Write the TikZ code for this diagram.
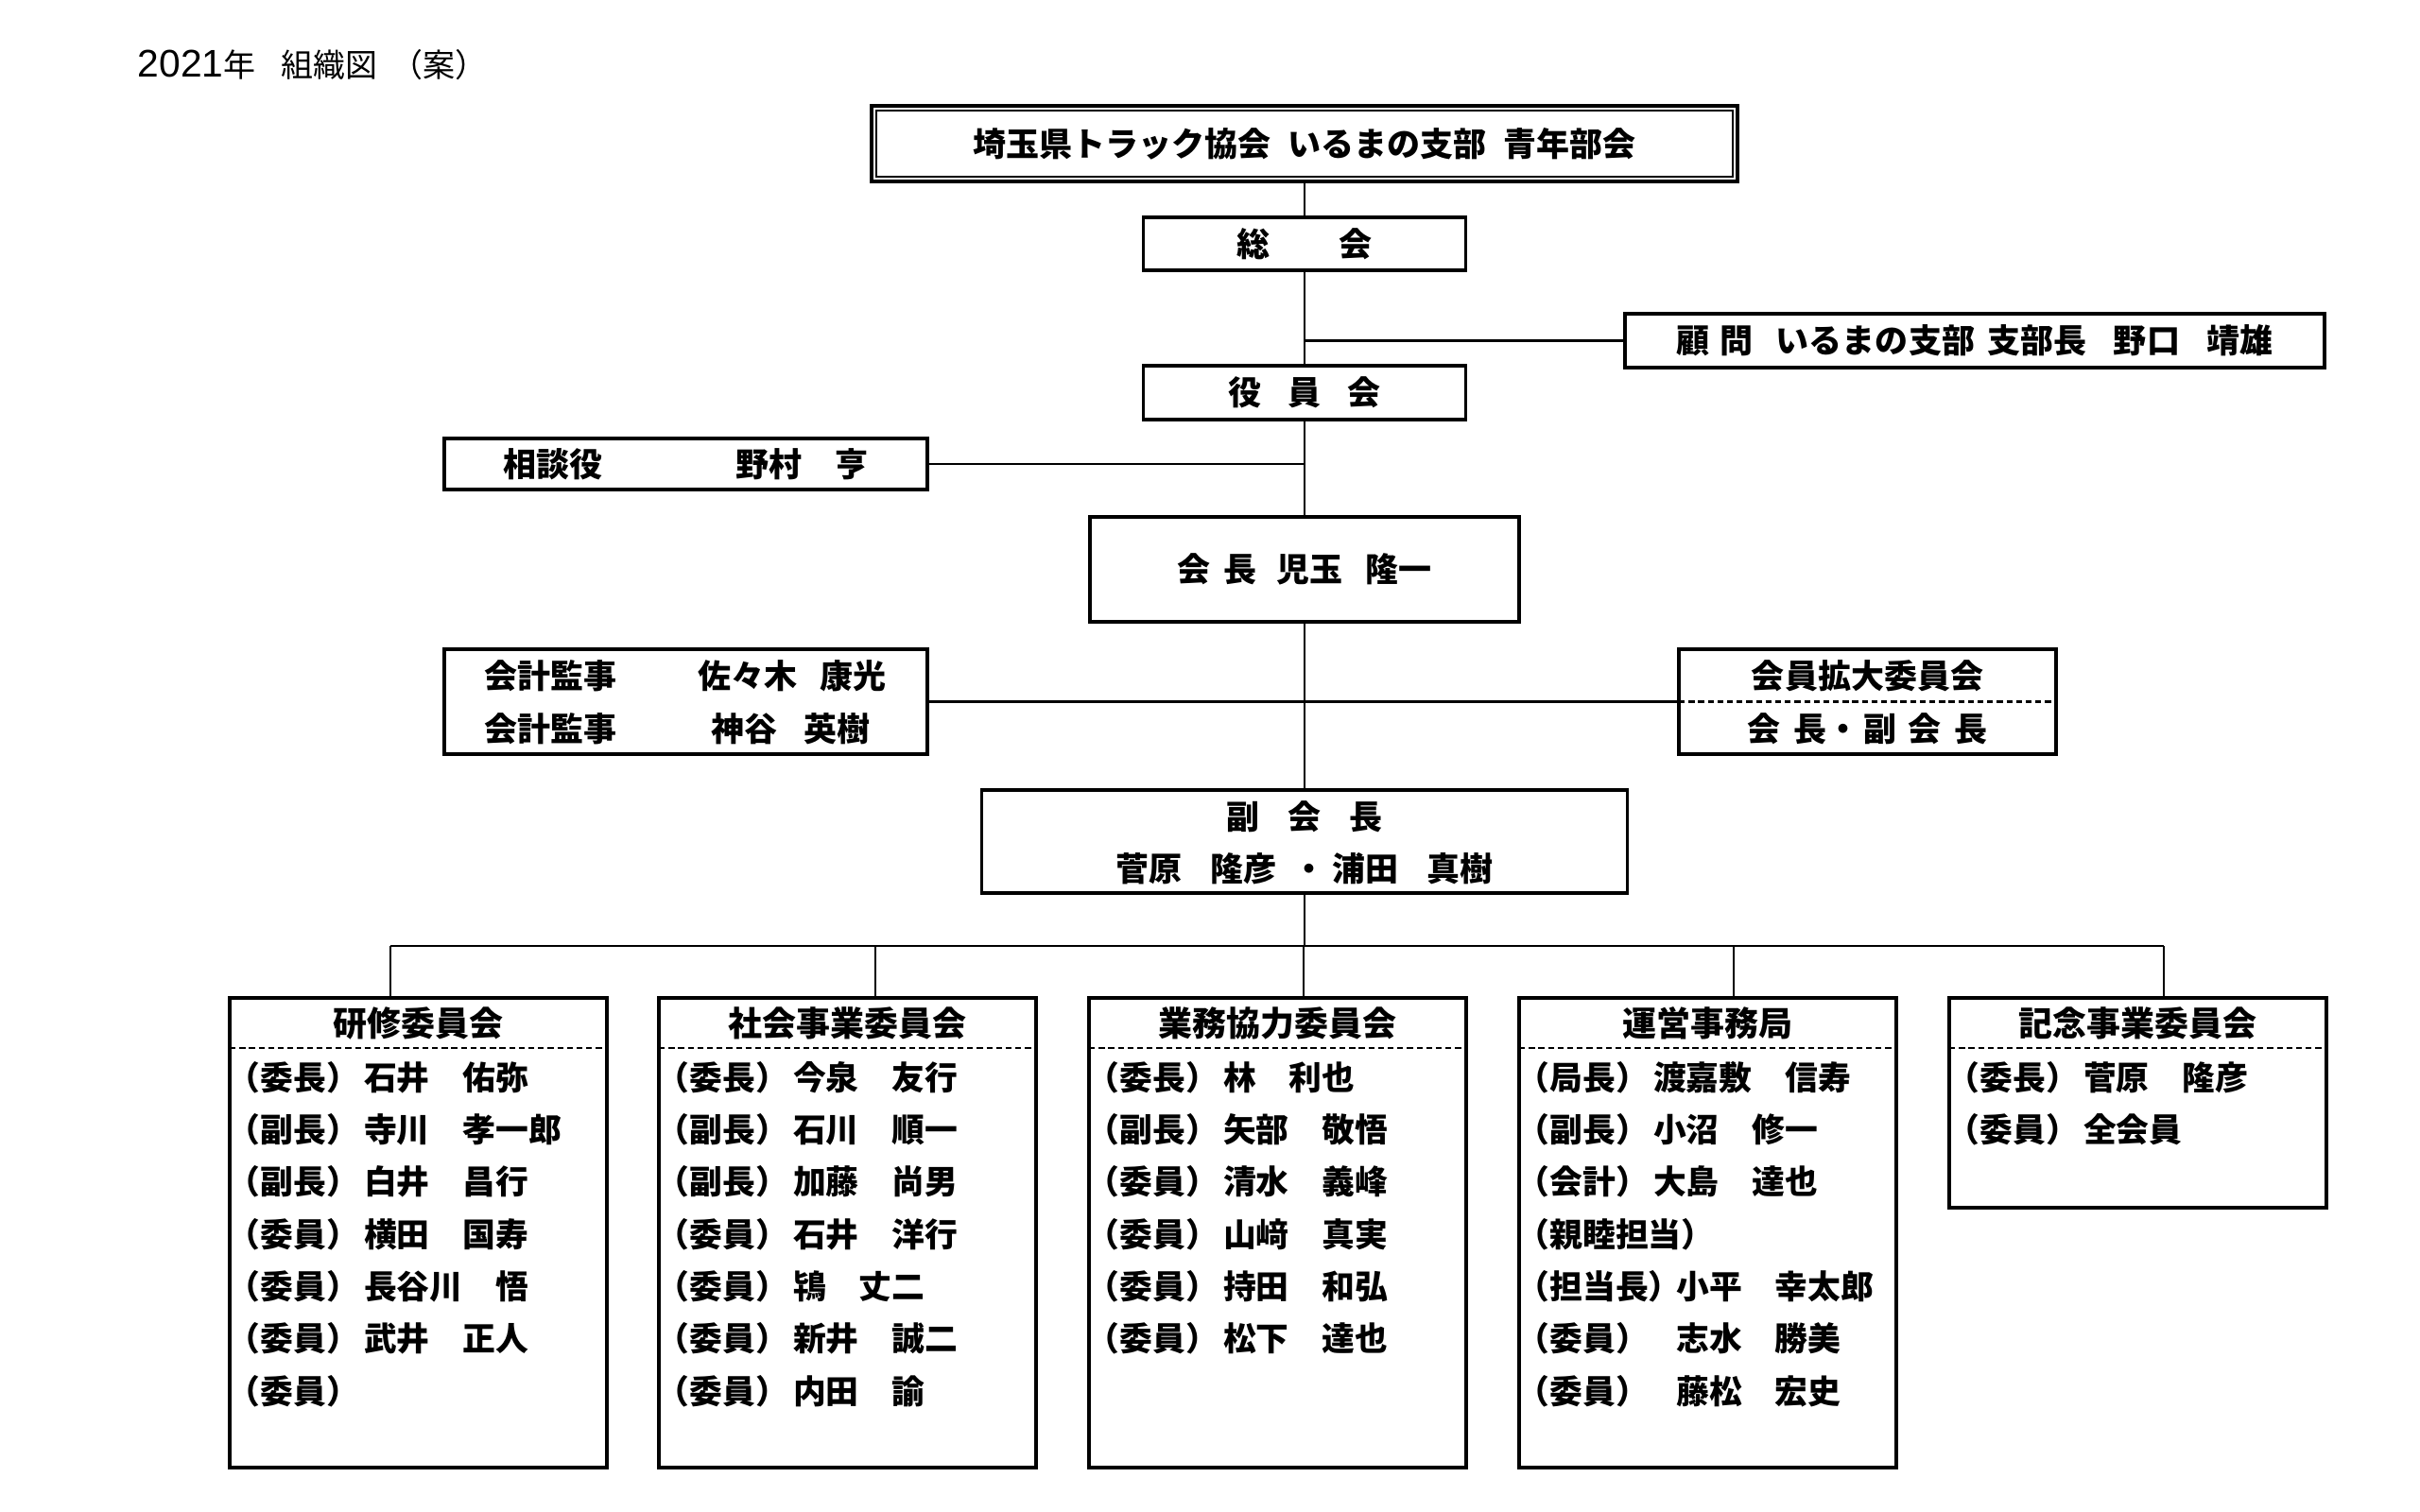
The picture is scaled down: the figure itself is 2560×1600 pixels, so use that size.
\documentclass[tikz,border=0pt]{standalone}
\usepackage{fontspec}
\newfontfamily\jp{Noto Sans CJK JP}
\newfontfamily\lat{Liberation Sans}
\usetikzlibrary{calc}
\newcommand\mrow[3]{\makebox[#1][l]{#2}#3}
\tikzset{
  box/.style={draw, line width=0.9pt, inner sep=0pt, outer sep=0pt},
  conn/.style={line width=0.75pt},
  sep/.style={line width=0.6pt, dash pattern=on 1.8pt off 1.1pt},
  upper/.style={font=\jp\bfseries\fontsize{9.96}{12}\selectfont},
  utext/.style={inner sep=0pt, font=\jp\bfseries\fontsize{9.96}{12}\selectfont},
  ctitle/.style={inner sep=0pt, font=\jp\bfseries\fontsize{10.24}{12}\selectfont},
  crow/.style={inner sep=0pt, anchor=west, font=\jp\bfseries\fontsize{9.9}{12}\selectfont},
  cbox/.style={box, anchor=north west, minimum width=39.9mm},
}
\begin{document}
\begin{tikzpicture}[x=0.1mm, y=-0.1mm]
\useasboundingbox (0,0) rectangle (2560,1600);
\fill[white] (0,0) rectangle (2560,1600);

% title
\node[anchor=west, inner sep=0pt, font=\jp\fontsize{9.67}{12}\selectfont] (title) at (145,69)
  {{\lat\fontsize{11.6}{12}\selectfont 2021}年\hspace{0.8em}組織図\hspace{0.4em}（案）};

% upper boxes
\node[box, line width=1.2pt, upper, minimum width=91.6mm, minimum height=8mm] (top) at (1380,152)
  {埼玉県トラック協会\hspace{0.5em}いるまの支部\hspace{0.5em}青年部会};
\draw[line width=0.5pt] ([shift={(5,5)}]top.north west) rectangle ([shift={(-5,-5)}]top.south east);

\node[box, upper, minimum width=34.1mm, minimum height=5.6mm] (sokai) at (1380,258)
  {総\hspace{2.1em}会};
\node[box, upper, minimum width=74mm, minimum height=5.7mm] (komon) at (2089,360.5)
  {顧\hspace{0.3em}問\hspace{0.7em}いるまの支部\hspace{0.4em}支部長\hspace{0.8em}野口\hspace{0.8em}靖雄};
\node[box, upper, minimum width=34.1mm, minimum height=5.7mm] (yakuin) at (1380,415.5)
  {役\hspace{0.8em}員\hspace{0.8em}会};
\node[box, upper, minimum width=51.1mm, minimum height=5.4mm] (sodan) at (725.5,491)
  {相談役　　　　野村　亨};
\node[box, upper, minimum width=45.4mm, minimum height=11.1mm] (kaicho) at (1380,602.5)
  {会\hspace{0.4em}長\hspace{0.6em}児玉\hspace{0.7em}隆一};

% auditors
\node[box, minimum width=51.1mm, minimum height=11.1mm] (kaikei) at (725.5,742.5) {};
\node[utext, anchor=west] (kaikei1) at (512,715) {会計監事\hspace{2.45em}佐々木\hspace{0.7em}康光};
\node[utext, anchor=west] (kaikei2) at (512,771) {会計監事\hspace{2.85em}神谷\hspace{0.8em}英樹};

% membership committee
\node[box, minimum width=39.9mm, minimum height=11.1mm] (kakudai) at (1975.5,742.5) {};
\node[utext] (kakudai1) at (1975.5,715) {会員拡大委員会};
\node[utext] (kakudai2) at (1975.5,771) {会\hspace{0.4em}長・\hspace{0.1em}副\hspace{0.35em}会\hspace{0.4em}長};
\draw[sep] (kakudai.west) -- (kakudai.east);

% vice presidents
\node[box, minimum width=68.3mm, minimum height=10.9mm] (fukukai) at (1380,890.5) {};
\node[utext] (fukukai1) at (1380,864) {副\hspace{0.85em}会\hspace{0.85em}長};
\node[utext] (fukukai2) at (1380,919) {菅原\hspace{0.85em}隆彦\hspace{0.5em}・\hspace{0.2em}浦田\hspace{0.85em}真樹};

% connectors (upper)
\draw[conn] (top.south) -- (sokai.north);
\draw[conn] (sokai.south) -- (yakuin.north);
\draw[conn] (komon.west) -- (komon.west -| sokai.south);
\draw[conn] (yakuin.south) -- (kaicho.north);
\draw[conn] (sodan.east) -- (sodan.east -| yakuin.south);
\draw[conn] (kaicho.south) -- (fukukai.north);
\draw[conn] (kaikei.east) -- (kakudai.west);

% bus
\coordinate (bus) at (1380,1001);
\coordinate (d1) at (413,1001);
\coordinate (d2) at (926,1001);
\coordinate (d3) at (1379,1001);
\coordinate (d4) at (1834,1001);
\coordinate (d5) at (2289,1001);
\draw[conn] (fukukai.south) -- (bus);
\draw[conn] (d1) -- (d5);

% committees
\node[cbox, minimum height=49.7mm] (c1) at (243,1056) {};
\node[cbox, minimum height=49.7mm] (c2) at (697,1056) {};
\node[cbox, minimum height=49.7mm] (c3) at (1152,1056) {};
\node[cbox, minimum height=49.7mm] (c4) at (1607,1056) {};
\node[cbox, minimum height=22.2mm] (c5) at (2062,1056) {};

\foreach \c/\d in {c1/d1,c2/d2,c3/d3,c4/d4,c5/d5}{
  \draw[conn] (\d) -- (\d |- \c.north);
  \draw[sep] ($(\c.north west)+(0,53)$) -- ($(\c.north east)+(0,53)$);
}

\node[ctitle] (c1t) at ($(c1.north)+(0,27)$) {研修委員会};
\node[ctitle] (c2t) at ($(c2.north)+(0,27)$) {社会事業委員会};
\node[ctitle] (c3t) at ($(c3.north)+(0,27)$) {業務協力委員会};
\node[ctitle] (c4t) at ($(c4.north)+(0,27)$) {運営事務局};
\node[ctitle] (c5t) at ($(c5.north)+(0,27)$) {記念事業委員会};

% committee 1
\node[crow] (c1r1) at ($(c1.north west)+(-3,84)$) {\mrow{4.15em}{（委長）}{石井　佑弥}};
\node[crow] (c1r2) at ($(c1.north west)+(-3,139.3)$) {\mrow{4.15em}{（副長）}{寺川　孝一郎}};
\node[crow] (c1r3) at ($(c1.north west)+(-3,194.6)$) {\mrow{4.15em}{（副長）}{白井　昌行}};
\node[crow] (c1r4) at ($(c1.north west)+(-3,249.9)$) {\mrow{4.15em}{（委員）}{横田　国寿}};
\node[crow] (c1r5) at ($(c1.north west)+(-3,305.2)$) {\mrow{4.15em}{（委員）}{長谷川　悟}};
\node[crow] (c1r6) at ($(c1.north west)+(-3,360.5)$) {\mrow{4.15em}{（委員）}{武井　正人}};
\node[crow] (c1r7) at ($(c1.north west)+(-3,415.8)$) {（委員）};

% committee 2
\node[crow] (c2r1) at ($(c2.north west)+(-3,84)$) {\mrow{4.15em}{（委長）}{今泉　友行}};
\node[crow] (c2r2) at ($(c2.north west)+(-3,139.3)$) {\mrow{4.15em}{（副長）}{石川　順一}};
\node[crow] (c2r3) at ($(c2.north west)+(-3,194.6)$) {\mrow{4.15em}{（副長）}{加藤　尚男}};
\node[crow] (c2r4) at ($(c2.north west)+(-3,249.9)$) {\mrow{4.15em}{（委員）}{石井　洋行}};
\node[crow] (c2r5) at ($(c2.north west)+(-3,305.2)$) {\mrow{4.15em}{（委員）}{鴇　丈二}};
\node[crow] (c2r6) at ($(c2.north west)+(-3,360.5)$) {\mrow{4.15em}{（委員）}{新井　誠二}};
\node[crow] (c2r7) at ($(c2.north west)+(-3,415.8)$) {\mrow{4.15em}{（委員）}{内田　諭}};

% committee 3
\node[crow] (c3r1) at ($(c3.north west)+(-3,84)$) {\mrow{4.15em}{（委長）}{林　利也}};
\node[crow] (c3r2) at ($(c3.north west)+(-3,139.3)$) {\mrow{4.15em}{（副長）}{矢部　敬悟}};
\node[crow] (c3r3) at ($(c3.north west)+(-3,194.6)$) {\mrow{4.15em}{（委員）}{清水　義峰}};
\node[crow] (c3r4) at ($(c3.north west)+(-3,249.9)$) {\mrow{4.15em}{（委員）}{山﨑　真実}};
\node[crow] (c3r5) at ($(c3.north west)+(-3,305.2)$) {\mrow{4.15em}{（委員）}{持田　和弘}};
\node[crow] (c3r6) at ($(c3.north west)+(-3,360.5)$) {\mrow{4.15em}{（委員）}{松下　達也}};

% committee 4
\node[crow] (c4r1) at ($(c4.north west)+(-3,84)$) {\mrow{4.15em}{（局長）}{渡嘉敷　信寿}};
\node[crow] (c4r2) at ($(c4.north west)+(-3,139.3)$) {\mrow{4.15em}{（副長）}{小沼　修一}};
\node[crow] (c4r3) at ($(c4.north west)+(-3,194.6)$) {\mrow{4.15em}{（会計）}{大島　達也}};
\node[crow] (c4r4) at ($(c4.north west)+(-3,249.9)$) {（親睦担当）};
\node[crow] (c4r5) at ($(c4.north west)+(-3,305.2)$) {\mrow{4.85em}{（担当長）}{小平　幸太郎}};
\node[crow] (c4r6) at ($(c4.north west)+(-3,360.5)$) {\mrow{4.85em}{（委員）}{志水　勝美}};
\node[crow] (c4r7) at ($(c4.north west)+(-3,415.8)$) {\mrow{4.85em}{（委員）}{藤松　宏史}};

% committee 5
\node[crow] (c5r1) at ($(c5.north west)+(-3,84)$) {\mrow{4.15em}{（委長）}{菅原　隆彦}};
\node[crow] (c5r2) at ($(c5.north west)+(-3,139.3)$) {\mrow{4.15em}{（委員）}{全会員}};
\end{tikzpicture}
\end{document}
